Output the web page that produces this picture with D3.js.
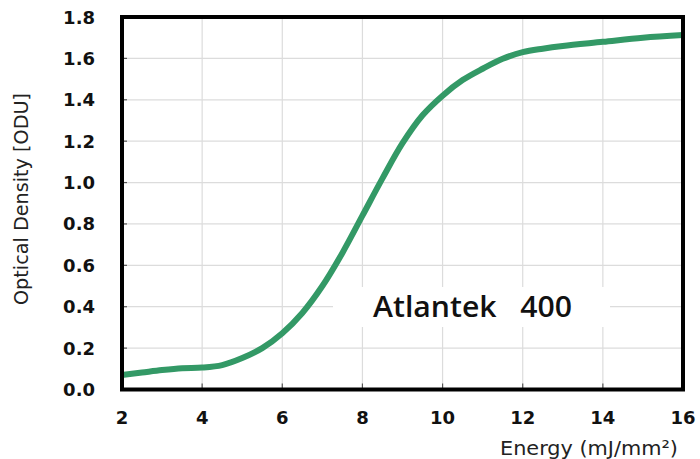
<!DOCTYPE html>
<html><head><meta charset="utf-8">
<script src="https://cdn.jsdelivr.net/npm/d3@7"></script>
<style>body{margin:0;background:#fff}svg{display:block}</style>
</head><body>
<svg id="c" width="700" height="459"></svg>
<script>
const energy = [2,2.5,3,3.5,4,4.5,5,5.5,6,6.5,7,7.5,8,8.5,9,9.5,10,10.5,11,11.5,12,12.5,13,14,15,16];
const density = [0.07,0.082,0.094,0.103,0.106,0.118,0.152,0.2,0.272,0.37,0.5,0.66,0.84,1.02,1.19,1.325,1.42,1.495,1.55,1.598,1.63,1.647,1.66,1.68,1.70,1.713];
const xTicks = [2,4,6,8,10,12,14,16];
const yTicks = [0,0.2,0.4,0.6,0.8,1.0,1.2,1.4,1.6,1.8];
const xTitle = "Energy (mJ/mm\u00B2)";
const yTitle = "Optical Density [ODU]";
const label = "Atlantek\u00A0\u00A0 400";

const svg = d3.select("#c");
const x = d3.scaleLinear().domain([2,16]).range([122,683]);
const y = d3.scaleLinear().domain([0,1.8]).range([389.5,17]);

svg.append("g").selectAll("line").data(xTicks.slice(1,-1)).join("line")
  .attr("x1",d=>x(d)).attr("x2",d=>x(d)).attr("y1",y(1.8)).attr("y2",y(0))
  .attr("stroke","#dcdcdc").attr("stroke-width",1.2);
svg.append("g").selectAll("line").data(yTicks.slice(1,-1)).join("line")
  .attr("y1",d=>y(d)).attr("y2",d=>y(d)).attr("x1",x(2)).attr("x2",x(16))
  .attr("stroke","#dcdcdc").attr("stroke-width",1.2);
svg.append("g").selectAll("line").data(xTicks.slice(1,-1)).join("line")
  .attr("x1",d=>x(d)).attr("x2",d=>x(d)).attr("y1",y(0)).attr("y2",y(0)-6)
  .attr("stroke","#555").attr("stroke-width",1.2);
svg.append("g").selectAll("line").data(yTicks.slice(1,-1)).join("line")
  .attr("y1",d=>y(d)).attr("y2",d=>y(d)).attr("x1",x(2)).attr("x2",x(2)+5)
  .attr("stroke","#555").attr("stroke-width",1.2);

svg.append("rect").attr("x",333).attr("y",287).attr("width",277).attr("height",40).attr("fill","#fff");

const line = d3.line().x((d,i)=>x(energy[i])).y(d=>y(d)).curve(d3.curveCatmullRom.alpha(0.5));
svg.append("path").datum(density).attr("d",line).attr("fill","none")
  .attr("stroke","#339966").attr("stroke-width",6).attr("stroke-linecap","butt");

svg.append("rect").attr("x",x(2)).attr("y",y(1.8)).attr("width",x(16)-x(2)).attr("height",y(0)-y(1.8))
  .attr("fill","none").attr("stroke","#000").attr("stroke-width",4);

svg.append("g").selectAll("text").data(yTicks).join("text")
  .attr("x",95).attr("y",d=>y(d)+6.5).attr("text-anchor","end")
  .attr("font-family","DejaVu Sans").attr("font-weight","bold").attr("font-size",18).attr("fill","#111")
  .text(d=>d3.format(".1f")(d));
svg.append("g").selectAll("text").data(xTicks).join("text")
  .attr("x",d=>x(d)).attr("y",424).attr("text-anchor","middle")
  .attr("font-family","DejaVu Sans").attr("font-weight","bold").attr("font-size",18).attr("fill","#111")
  .text(d=>d);

svg.append("text").attr("x",678).attr("y",455).attr("text-anchor","end")
  .attr("font-family","DejaVu Sans").attr("font-size",20).attr("fill","#222")
  .attr("textLength",178).attr("lengthAdjust","spacingAndGlyphs").text(xTitle);
svg.append("text").attr("transform","translate(28,199) rotate(-90)").attr("text-anchor","middle")
  .attr("font-family","DejaVu Sans").attr("font-size",20).attr("fill","#222")
  .attr("textLength",212).attr("lengthAdjust","spacingAndGlyphs").text(yTitle);

svg.append("text").attr("x",373).attr("y",317)
  .attr("font-family","Open Sans").attr("font-weight",600).attr("font-size",28).attr("fill","#111")
  .attr("textLength",199).attr("lengthAdjust","spacingAndGlyphs").text(label);
</script>
</body></html>
